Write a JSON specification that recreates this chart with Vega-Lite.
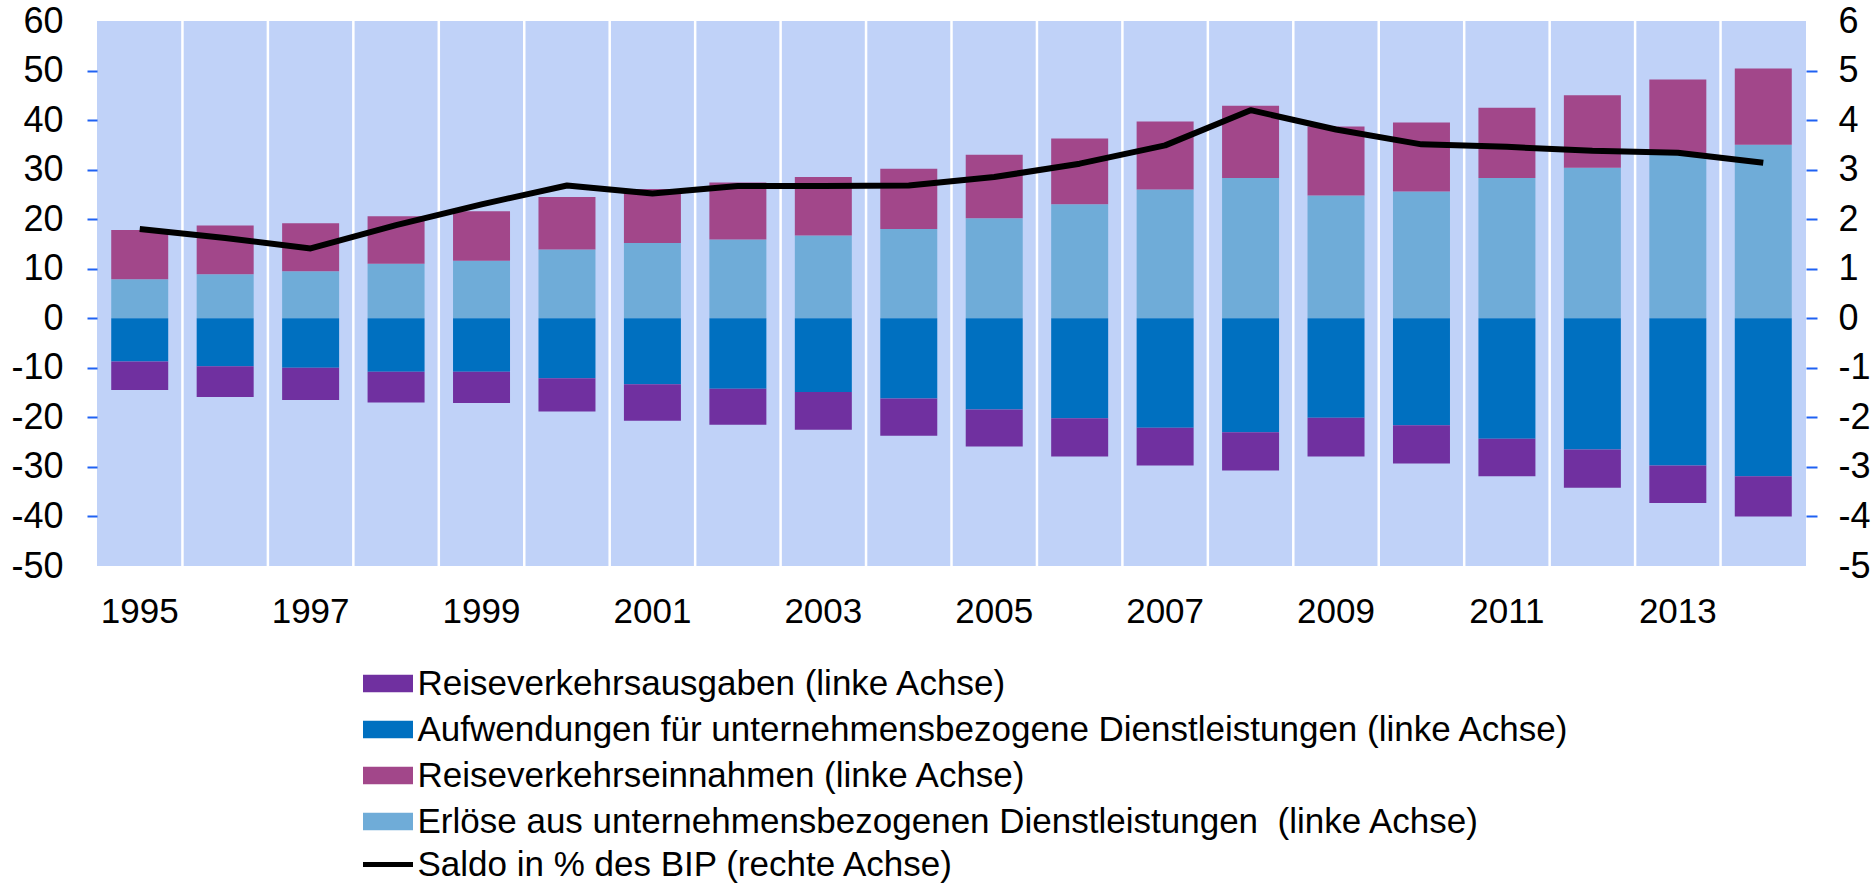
{
  "$schema": "https://vega.github.io/schema/vega-lite/v6.json",
  "width": 1709,
  "height": 545,
  "autosize": {"type": "none"},
  "padding": {"left": 97, "top": 21, "right": 70, "bottom": 317},
  "background": "white",
  "config": {
    "view": {"fill": "#C0D2F8", "stroke": null},
    "font": "Liberation Sans",
    "axis": {"labelFont": "Liberation Sans", "labelColor": "#000000", "grid": false, "domain": false},
    "legend": {"labelFont": "Liberation Sans", "labelColor": "#000000", "labelLimit": 3000}
  },
  "datasets": {
    "bars": [
      {"Jahr": "1995", "Reihe": "Erlöse aus unternehmensbezogenen Dienstleistungen  (linke Achse)", "Wert": 7.9, "Ordnung": 1},
      {"Jahr": "1995", "Reihe": "Reiseverkehrseinnahmen (linke Achse)", "Wert": 9.9, "Ordnung": 2},
      {"Jahr": "1995", "Reihe": "Aufwendungen für unternehmensbezogene Dienstleistungen (linke Achse)", "Wert": -8.7, "Ordnung": 1},
      {"Jahr": "1995", "Reihe": "Reiseverkehrsausgaben (linke Achse)", "Wert": -5.8, "Ordnung": 2},
      {"Jahr": "1996", "Reihe": "Erlöse aus unternehmensbezogenen Dienstleistungen  (linke Achse)", "Wert": 8.9, "Ordnung": 1},
      {"Jahr": "1996", "Reihe": "Reiseverkehrseinnahmen (linke Achse)", "Wert": 9.8, "Ordnung": 2},
      {"Jahr": "1996", "Reihe": "Aufwendungen für unternehmensbezogene Dienstleistungen (linke Achse)", "Wert": -9.7, "Ordnung": 1},
      {"Jahr": "1996", "Reihe": "Reiseverkehrsausgaben (linke Achse)", "Wert": -6.2, "Ordnung": 2},
      {"Jahr": "1997", "Reihe": "Erlöse aus unternehmensbezogenen Dienstleistungen  (linke Achse)", "Wert": 9.5, "Ordnung": 1},
      {"Jahr": "1997", "Reihe": "Reiseverkehrseinnahmen (linke Achse)", "Wert": 9.7, "Ordnung": 2},
      {"Jahr": "1997", "Reihe": "Aufwendungen für unternehmensbezogene Dienstleistungen (linke Achse)", "Wert": -10.0, "Ordnung": 1},
      {"Jahr": "1997", "Reihe": "Reiseverkehrsausgaben (linke Achse)", "Wert": -6.5, "Ordnung": 2},
      {"Jahr": "1998", "Reihe": "Erlöse aus unternehmensbezogenen Dienstleistungen  (linke Achse)", "Wert": 11.0, "Ordnung": 1},
      {"Jahr": "1998", "Reihe": "Reiseverkehrseinnahmen (linke Achse)", "Wert": 9.6, "Ordnung": 2},
      {"Jahr": "1998", "Reihe": "Aufwendungen für unternehmensbezogene Dienstleistungen (linke Achse)", "Wert": -10.8, "Ordnung": 1},
      {"Jahr": "1998", "Reihe": "Reiseverkehrsausgaben (linke Achse)", "Wert": -6.2, "Ordnung": 2},
      {"Jahr": "1999", "Reihe": "Erlöse aus unternehmensbezogenen Dienstleistungen  (linke Achse)", "Wert": 11.6, "Ordnung": 1},
      {"Jahr": "1999", "Reihe": "Reiseverkehrseinnahmen (linke Achse)", "Wert": 10.0, "Ordnung": 2},
      {"Jahr": "1999", "Reihe": "Aufwendungen für unternehmensbezogene Dienstleistungen (linke Achse)", "Wert": -10.8, "Ordnung": 1},
      {"Jahr": "1999", "Reihe": "Reiseverkehrsausgaben (linke Achse)", "Wert": -6.3, "Ordnung": 2},
      {"Jahr": "2000", "Reihe": "Erlöse aus unternehmensbezogenen Dienstleistungen  (linke Achse)", "Wert": 13.9, "Ordnung": 1},
      {"Jahr": "2000", "Reihe": "Reiseverkehrseinnahmen (linke Achse)", "Wert": 10.6, "Ordnung": 2},
      {"Jahr": "2000", "Reihe": "Aufwendungen für unternehmensbezogene Dienstleistungen (linke Achse)", "Wert": -12.1, "Ordnung": 1},
      {"Jahr": "2000", "Reihe": "Reiseverkehrsausgaben (linke Achse)", "Wert": -6.7, "Ordnung": 2},
      {"Jahr": "2001", "Reihe": "Erlöse aus unternehmensbezogenen Dienstleistungen  (linke Achse)", "Wert": 15.2, "Ordnung": 1},
      {"Jahr": "2001", "Reihe": "Reiseverkehrseinnahmen (linke Achse)", "Wert": 10.9, "Ordnung": 2},
      {"Jahr": "2001", "Reihe": "Aufwendungen für unternehmensbezogene Dienstleistungen (linke Achse)", "Wert": -13.3, "Ordnung": 1},
      {"Jahr": "2001", "Reihe": "Reiseverkehrsausgaben (linke Achse)", "Wert": -7.4, "Ordnung": 2},
      {"Jahr": "2002", "Reihe": "Erlöse aus unternehmensbezogenen Dienstleistungen  (linke Achse)", "Wert": 15.9, "Ordnung": 1},
      {"Jahr": "2002", "Reihe": "Reiseverkehrseinnahmen (linke Achse)", "Wert": 11.5, "Ordnung": 2},
      {"Jahr": "2002", "Reihe": "Aufwendungen für unternehmensbezogene Dienstleistungen (linke Achse)", "Wert": -14.2, "Ordnung": 1},
      {"Jahr": "2002", "Reihe": "Reiseverkehrsausgaben (linke Achse)", "Wert": -7.3, "Ordnung": 2},
      {"Jahr": "2003", "Reihe": "Erlöse aus unternehmensbezogenen Dienstleistungen  (linke Achse)", "Wert": 16.7, "Ordnung": 1},
      {"Jahr": "2003", "Reihe": "Reiseverkehrseinnahmen (linke Achse)", "Wert": 11.8, "Ordnung": 2},
      {"Jahr": "2003", "Reihe": "Aufwendungen für unternehmensbezogene Dienstleistungen (linke Achse)", "Wert": -14.9, "Ordnung": 1},
      {"Jahr": "2003", "Reihe": "Reiseverkehrsausgaben (linke Achse)", "Wert": -7.6, "Ordnung": 2},
      {"Jahr": "2004", "Reihe": "Erlöse aus unternehmensbezogenen Dienstleistungen  (linke Achse)", "Wert": 18.0, "Ordnung": 1},
      {"Jahr": "2004", "Reihe": "Reiseverkehrseinnahmen (linke Achse)", "Wert": 12.2, "Ordnung": 2},
      {"Jahr": "2004", "Reihe": "Aufwendungen für unternehmensbezogene Dienstleistungen (linke Achse)", "Wert": -16.2, "Ordnung": 1},
      {"Jahr": "2004", "Reihe": "Reiseverkehrsausgaben (linke Achse)", "Wert": -7.5, "Ordnung": 2},
      {"Jahr": "2005", "Reihe": "Erlöse aus unternehmensbezogenen Dienstleistungen  (linke Achse)", "Wert": 20.2, "Ordnung": 1},
      {"Jahr": "2005", "Reihe": "Reiseverkehrseinnahmen (linke Achse)", "Wert": 12.8, "Ordnung": 2},
      {"Jahr": "2005", "Reihe": "Aufwendungen für unternehmensbezogene Dienstleistungen (linke Achse)", "Wert": -18.4, "Ordnung": 1},
      {"Jahr": "2005", "Reihe": "Reiseverkehrsausgaben (linke Achse)", "Wert": -7.5, "Ordnung": 2},
      {"Jahr": "2006", "Reihe": "Erlöse aus unternehmensbezogenen Dienstleistungen  (linke Achse)", "Wert": 23.0, "Ordnung": 1},
      {"Jahr": "2006", "Reihe": "Reiseverkehrseinnahmen (linke Achse)", "Wert": 13.3, "Ordnung": 2},
      {"Jahr": "2006", "Reihe": "Aufwendungen für unternehmensbezogene Dienstleistungen (linke Achse)", "Wert": -20.2, "Ordnung": 1},
      {"Jahr": "2006", "Reihe": "Reiseverkehrsausgaben (linke Achse)", "Wert": -7.7, "Ordnung": 2},
      {"Jahr": "2007", "Reihe": "Erlöse aus unternehmensbezogenen Dienstleistungen  (linke Achse)", "Wert": 26.0, "Ordnung": 1},
      {"Jahr": "2007", "Reihe": "Reiseverkehrseinnahmen (linke Achse)", "Wert": 13.7, "Ordnung": 2},
      {"Jahr": "2007", "Reihe": "Aufwendungen für unternehmensbezogene Dienstleistungen (linke Achse)", "Wert": -22.1, "Ordnung": 1},
      {"Jahr": "2007", "Reihe": "Reiseverkehrsausgaben (linke Achse)", "Wert": -7.6, "Ordnung": 2},
      {"Jahr": "2008", "Reihe": "Erlöse aus unternehmensbezogenen Dienstleistungen  (linke Achse)", "Wert": 28.3, "Ordnung": 1},
      {"Jahr": "2008", "Reihe": "Reiseverkehrseinnahmen (linke Achse)", "Wert": 14.6, "Ordnung": 2},
      {"Jahr": "2008", "Reihe": "Aufwendungen für unternehmensbezogene Dienstleistungen (linke Achse)", "Wert": -23.0, "Ordnung": 1},
      {"Jahr": "2008", "Reihe": "Reiseverkehrsausgaben (linke Achse)", "Wert": -7.7, "Ordnung": 2},
      {"Jahr": "2009", "Reihe": "Erlöse aus unternehmensbezogenen Dienstleistungen  (linke Achse)", "Wert": 24.8, "Ordnung": 1},
      {"Jahr": "2009", "Reihe": "Reiseverkehrseinnahmen (linke Achse)", "Wert": 13.9, "Ordnung": 2},
      {"Jahr": "2009", "Reihe": "Aufwendungen für unternehmensbezogene Dienstleistungen (linke Achse)", "Wert": -20.1, "Ordnung": 1},
      {"Jahr": "2009", "Reihe": "Reiseverkehrsausgaben (linke Achse)", "Wert": -7.8, "Ordnung": 2},
      {"Jahr": "2010", "Reihe": "Erlöse aus unternehmensbezogenen Dienstleistungen  (linke Achse)", "Wert": 25.6, "Ordnung": 1},
      {"Jahr": "2010", "Reihe": "Reiseverkehrseinnahmen (linke Achse)", "Wert": 13.9, "Ordnung": 2},
      {"Jahr": "2010", "Reihe": "Aufwendungen für unternehmensbezogene Dienstleistungen (linke Achse)", "Wert": -21.6, "Ordnung": 1},
      {"Jahr": "2010", "Reihe": "Reiseverkehrsausgaben (linke Achse)", "Wert": -7.7, "Ordnung": 2},
      {"Jahr": "2011", "Reihe": "Erlöse aus unternehmensbezogenen Dienstleistungen  (linke Achse)", "Wert": 28.3, "Ordnung": 1},
      {"Jahr": "2011", "Reihe": "Reiseverkehrseinnahmen (linke Achse)", "Wert": 14.2, "Ordnung": 2},
      {"Jahr": "2011", "Reihe": "Aufwendungen für unternehmensbezogene Dienstleistungen (linke Achse)", "Wert": -24.3, "Ordnung": 1},
      {"Jahr": "2011", "Reihe": "Reiseverkehrsausgaben (linke Achse)", "Wert": -7.6, "Ordnung": 2},
      {"Jahr": "2012", "Reihe": "Erlöse aus unternehmensbezogenen Dienstleistungen  (linke Achse)", "Wert": 30.4, "Ordnung": 1},
      {"Jahr": "2012", "Reihe": "Reiseverkehrseinnahmen (linke Achse)", "Wert": 14.6, "Ordnung": 2},
      {"Jahr": "2012", "Reihe": "Aufwendungen für unternehmensbezogene Dienstleistungen (linke Achse)", "Wert": -26.5, "Ordnung": 1},
      {"Jahr": "2012", "Reihe": "Reiseverkehrsausgaben (linke Achse)", "Wert": -7.7, "Ordnung": 2},
      {"Jahr": "2013", "Reihe": "Erlöse aus unternehmensbezogenen Dienstleistungen  (linke Achse)", "Wert": 33.1, "Ordnung": 1},
      {"Jahr": "2013", "Reihe": "Reiseverkehrseinnahmen (linke Achse)", "Wert": 15.1, "Ordnung": 2},
      {"Jahr": "2013", "Reihe": "Aufwendungen für unternehmensbezogene Dienstleistungen (linke Achse)", "Wert": -29.7, "Ordnung": 1},
      {"Jahr": "2013", "Reihe": "Reiseverkehrsausgaben (linke Achse)", "Wert": -7.6, "Ordnung": 2},
      {"Jahr": "2014", "Reihe": "Erlöse aus unternehmensbezogenen Dienstleistungen  (linke Achse)", "Wert": 35.0, "Ordnung": 1},
      {"Jahr": "2014", "Reihe": "Reiseverkehrseinnahmen (linke Achse)", "Wert": 15.4, "Ordnung": 2},
      {"Jahr": "2014", "Reihe": "Aufwendungen für unternehmensbezogene Dienstleistungen (linke Achse)", "Wert": -31.9, "Ordnung": 1},
      {"Jahr": "2014", "Reihe": "Reiseverkehrsausgaben (linke Achse)", "Wert": -8.1, "Ordnung": 2}
    ],
    "saldo": [
      {"Jahr": "1995", "Saldo": 1.80, "Serie": "Saldo in % des BIP (rechte Achse)"},
      {"Jahr": "1996", "Saldo": 1.62, "Serie": "Saldo in % des BIP (rechte Achse)"},
      {"Jahr": "1997", "Saldo": 1.41, "Serie": "Saldo in % des BIP (rechte Achse)"},
      {"Jahr": "1998", "Saldo": 1.88, "Serie": "Saldo in % des BIP (rechte Achse)"},
      {"Jahr": "1999", "Saldo": 2.30, "Serie": "Saldo in % des BIP (rechte Achse)"},
      {"Jahr": "2000", "Saldo": 2.68, "Serie": "Saldo in % des BIP (rechte Achse)"},
      {"Jahr": "2001", "Saldo": 2.52, "Serie": "Saldo in % des BIP (rechte Achse)"},
      {"Jahr": "2002", "Saldo": 2.67, "Serie": "Saldo in % des BIP (rechte Achse)"},
      {"Jahr": "2003", "Saldo": 2.67, "Serie": "Saldo in % des BIP (rechte Achse)"},
      {"Jahr": "2004", "Saldo": 2.68, "Serie": "Saldo in % des BIP (rechte Achse)"},
      {"Jahr": "2005", "Saldo": 2.85, "Serie": "Saldo in % des BIP (rechte Achse)"},
      {"Jahr": "2006", "Saldo": 3.12, "Serie": "Saldo in % des BIP (rechte Achse)"},
      {"Jahr": "2007", "Saldo": 3.49, "Serie": "Saldo in % des BIP (rechte Achse)"},
      {"Jahr": "2008", "Saldo": 4.20, "Serie": "Saldo in % des BIP (rechte Achse)"},
      {"Jahr": "2009", "Saldo": 3.81, "Serie": "Saldo in % des BIP (rechte Achse)"},
      {"Jahr": "2010", "Saldo": 3.51, "Serie": "Saldo in % des BIP (rechte Achse)"},
      {"Jahr": "2011", "Saldo": 3.46, "Serie": "Saldo in % des BIP (rechte Achse)"},
      {"Jahr": "2012", "Saldo": 3.38, "Serie": "Saldo in % des BIP (rechte Achse)"},
      {"Jahr": "2013", "Saldo": 3.34, "Serie": "Saldo in % des BIP (rechte Achse)"},
      {"Jahr": "2014", "Saldo": 3.14, "Serie": "Saldo in % des BIP (rechte Achse)"}
    ]
  },
  "layer": [
    {
      "layer": [
        {
          "data": {"name": "saldo"},
          "transform": [{"filter": "datum.Jahr != '1995'"}],
          "mark": {"type": "rule", "color": "#FFFFFF", "strokeWidth": 2.5},
          "encoding": {
            "x": {"field": "Jahr", "type": "ordinal", "bandPosition": 0, "title": null,
                  "scale": {"type": "band", "paddingInner": 0, "paddingOuter": 0},
                  "axis": {"values": ["1995", "1997", "1999", "2001", "2003", "2005", "2007", "2009", "2011", "2013"],
                           "labelAngle": 0, "ticks": false, "tickSize": 0, "labelPadding": 28,
                           "labelFontSize": 35, "domain": false, "grid": false}}
          }
        },
        {
          "data": {"name": "bars"},
          "mark": {"type": "bar", "width": {"band": 0.667}},
          "encoding": {
            "x": {"field": "Jahr", "type": "ordinal", "title": null,
                  "scale": {"type": "band", "paddingInner": 0, "paddingOuter": 0},
                  "axis": {"values": ["1995", "1997", "1999", "2001", "2003", "2005", "2007", "2009", "2011", "2013"],
                           "labelAngle": 0, "ticks": false, "tickSize": 0, "labelPadding": 28,
                           "labelFontSize": 35, "domain": false, "grid": false}},
            "y": {"field": "Wert", "type": "quantitative", "stack": "zero", "title": null,
                  "scale": {"domain": [-50, 60], "nice": false},
                  "axis": {"values": [-50, -40, -30, -20, -10, 0, 10, 20, 30, 40, 50, 60],
                           "labelExpr": "'' + datum.value",
                           "orient": "left", "labelFontSize": 36, "tickSize": 10, "tickWidth": 2,
                           "tickColor": {"condition": {"test": "datum.value == 60 || datum.value == -50", "value": "transparent"}, "value": "#1F61F2"},
                           "labelPadding": 24, "domain": false, "grid": false}},
            "color": {"field": "Reihe", "type": "nominal",
                      "scale": {"domain": ["Reiseverkehrsausgaben (linke Achse)",
                                           "Aufwendungen für unternehmensbezogene Dienstleistungen (linke Achse)",
                                           "Reiseverkehrseinnahmen (linke Achse)",
                                           "Erlöse aus unternehmensbezogenen Dienstleistungen  (linke Achse)"],
                                "range": ["#7030A0", "#0070C0", "#A2478A", "#6FACD8"]},
                      "legend": {"orient": "none", "legendX": 273.5, "legendY": 645, "direction": "vertical",
                                 "title": null, "padding": 0,
                                 "labelExpr": "replace(datum.label, 'Dienstleistungen  (', 'Dienstleistungen \u00a0(')",
                                 "symbolType": "M-2,-0.7H2V0.7H-2Z", "symbolSize": 625, "symbolStrokeWidth": 0,
                                 "labelFontSize": 35, "labelOffset": 12, "rowPadding": 10}},
            "order": {"field": "Ordnung", "type": "quantitative"}
          }
        },
        {
          "mark": {"type": "rule", "color": "#000000", "strokeWidth": 2.5},
          "encoding": {
            "y": {"datum": 0, "type": "quantitative", "title": null,
                  "scale": {"domain": [-50, 60], "nice": false},
                  "axis": {"values": [-50, -40, -30, -20, -10, 0, 10, 20, 30, 40, 50, 60],
                           "labelExpr": "'' + datum.value",
                           "orient": "left", "labelFontSize": 36, "tickSize": 10, "tickWidth": 2,
                           "tickColor": {"condition": {"test": "datum.value == 60 || datum.value == -50", "value": "transparent"}, "value": "#1F61F2"},
                           "labelPadding": 24, "domain": false, "grid": false}}
          }
        }
      ]
    },
    {
      "data": {"name": "saldo"},
      "mark": {"type": "line", "strokeWidth": 6, "strokeJoin": "round"},
      "encoding": {
        "x": {"field": "Jahr", "type": "ordinal", "title": null,
              "scale": {"type": "band", "paddingInner": 0, "paddingOuter": 0},
              "axis": {"values": ["1995", "1997", "1999", "2001", "2003", "2005", "2007", "2009", "2011", "2013"],
                       "labelAngle": 0, "ticks": false, "tickSize": 0, "labelPadding": 28,
                       "labelFontSize": 35, "domain": false, "grid": false}},
        "y": {"field": "Saldo", "type": "quantitative", "title": null,
              "scale": {"domain": [-5, 6], "nice": false},
              "axis": {"orient": "right", "values": [-5, -4, -3, -2, -1, 0, 1, 2, 3, 4, 5, 6],
                       "labelExpr": "'' + datum.value",
                       "labelFontSize": 36, "tickSize": 11, "tickWidth": 2,
                       "tickColor": {"condition": {"test": "datum.value == 6 || datum.value == -5", "value": "transparent"}, "value": "#1F61F2"},
                       "labelPadding": 21, "domain": false, "grid": false}},
        "stroke": {"field": "Serie", "type": "nominal",
                   "scale": {"range": ["#000000"]},
                   "legend": {"orient": "none", "legendX": 273.5, "legendY": 826, "title": null, "padding": 0,
                              "symbolType": "M-2,0H2", "symbolSize": 625, "symbolStrokeWidth": 5,
                              "labelFontSize": 35, "labelOffset": 12}}
      }
    }
  ],
  "resolve": {"scale": {"y": "independent"}}
}
